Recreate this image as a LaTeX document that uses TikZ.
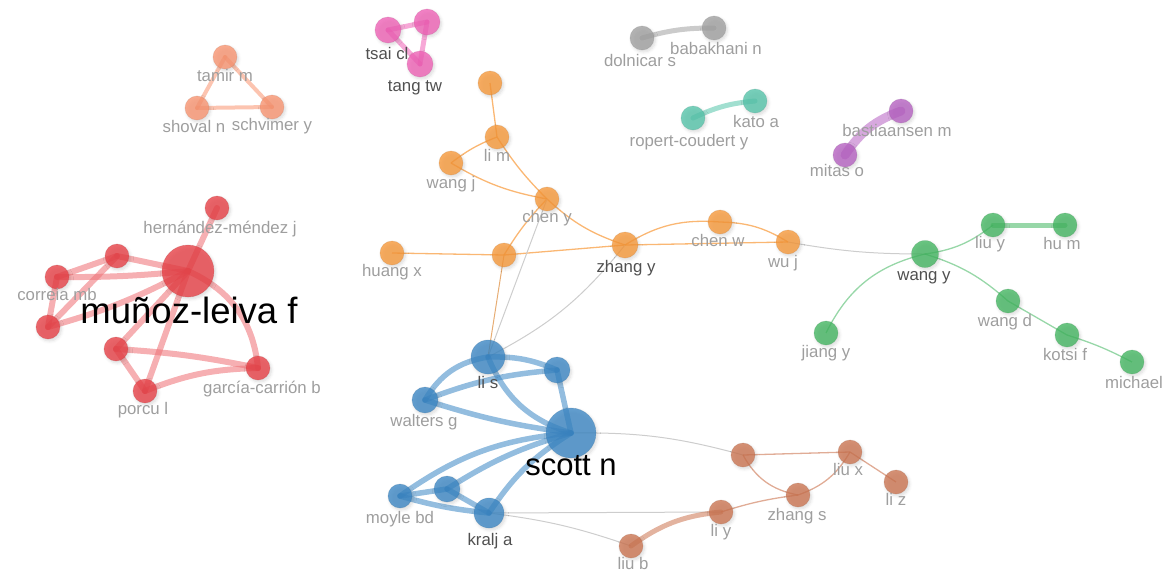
\documentclass[tikz,border=0pt]{standalone}
\usepackage{fontspec}
\setmainfont{Liberation Sans}
\usetikzlibrary{backgrounds,shadows.blur}
\definecolor{cRed}{RGB}{232,62,68}
\definecolor{cOrg}{RGB}{248,152,56}
\definecolor{cBlu}{RGB}{58,134,196}
\definecolor{cGrn}{RGB}{66,182,96}
\definecolor{cBrn}{RGB}{204,116,80}
\definecolor{cPnk}{RGB}{240,96,182}
\definecolor{cSal}{RGB}{250,148,112}
\definecolor{cGry}{RGB}{160,160,160}
\definecolor{cTea}{RGB}{84,196,170}
\definecolor{cPur}{RGB}{182,96,194}
\definecolor{cLbl}{RGB}{158,158,158}
\definecolor{cLbd}{RGB}{80,80,80}
\definecolor{cLink}{RGB}{205,205,205}
\tikzset{
  nd/.style={circle, inner sep=0pt, minimum size=24pt, fill=#1, fill opacity=0.78, draw=#1!75!black, draw opacity=0.25, line width=0.6pt,
    blur shadow={shadow xshift=1.5pt, shadow yshift=-2pt, shadow blur steps=6, shadow blur radius=3pt, shadow opacity=18}},
  lbl/.style={inner sep=0pt, text=cLbl, font=\fontsize{16.8}{17}\selectfont, text height=12pt, text depth=3pt},
  lbd/.style={lbl, text=cLbd},
  big/.style={inner sep=0pt, text=black, font=\fontsize{#1}{#1}\selectfont},
  thick link/.style={line width=#1, draw opacity=0.55, line cap=round},
  thin link/.style={line width=#1, draw opacity=0.7},
  gray link/.style={line width=1pt, draw=cLink},
}
\begin{document}
\begin{tikzpicture}[x=1pt, y=-1pt]
\useasboundingbox (0,0) rectangle (1163,571);
% ---------- red cluster
\node[nd=cRed, minimum size=52pt] (m1) at (188,271) {};
\node[nd=cRed] (r1) at (217,208) {};
\node[nd=cRed] (r2) at (117,256) {};
\node[nd=cRed] (r3) at (57,277) {};
\node[nd=cRed] (r4) at (48,327) {};
\node[nd=cRed] (r5) at (116,349) {};
\node[nd=cRed] (r6) at (145,391) {};
\node[nd=cRed] (r7) at (258,368) {};
% ---------- salmon
\node[nd=cSal] (t1) at (225,57) {};
\node[nd=cSal] (t2) at (197,108) {};
\node[nd=cSal] (t3) at (272,107) {};
% ---------- pink
\node[nd=cPnk, minimum size=26pt] (p1) at (388,30) {};
\node[nd=cPnk, minimum size=26pt] (p2) at (427,22) {};
\node[nd=cPnk, minimum size=26pt] (p3) at (420,64) {};
% ---------- gray
\node[nd=cGry] (g1) at (642,38) {};
\node[nd=cGry] (g2) at (714,28) {};
% ---------- teal
\node[nd=cTea] (c1) at (693,118) {};
\node[nd=cTea] (c2) at (755,101) {};
% ---------- purple
\node[nd=cPur] (v1) at (901,111) {};
\node[nd=cPur] (v2) at (845,155) {};
% ---------- orange
\node[nd=cOrg] (o1) at (490,83) {};
\node[nd=cOrg] (o2) at (497,137) {};
\node[nd=cOrg] (o3) at (451,163) {};
\node[nd=cOrg] (o4) at (547,199) {};
\node[nd=cOrg] (o5) at (392,253) {};
\node[nd=cOrg] (o6) at (504,255) {};
\node[nd=cOrg, minimum size=26pt] (o7) at (625,245) {};
\node[nd=cOrg] (o8) at (720,222) {};
\node[nd=cOrg] (o9) at (788,242) {};
% ---------- green
\node[nd=cGrn, minimum size=27pt] (e1) at (925,254) {};
\node[nd=cGrn] (e2) at (993,225) {};
\node[nd=cGrn] (e3) at (1065,225) {};
\node[nd=cGrn] (e4) at (826,333) {};
\node[nd=cGrn] (e5) at (1008,301) {};
\node[nd=cGrn] (e6) at (1067,335) {};
\node[nd=cGrn] (e7) at (1132,362) {};
% ---------- blue
\node[nd=cBlu, minimum size=34pt] (b1) at (488,357) {};
\node[nd=cBlu, minimum size=26pt] (b2) at (557,370) {};
\node[nd=cBlu, minimum size=26pt] (b3) at (425,400) {};
\node[nd=cBlu, minimum size=50pt] (b4) at (571,433) {};
\node[nd=cBlu] (b5) at (400,496) {};
\node[nd=cBlu, minimum size=26pt] (b6) at (447,489) {};
\node[nd=cBlu, minimum size=30pt] (b7) at (489,513) {};
% ---------- brown
\node[nd=cBrn] (n1) at (743,455) {};
\node[nd=cBrn] (n2) at (850,452) {};
\node[nd=cBrn] (n3) at (896,482) {};
\node[nd=cBrn] (n4) at (798,495) {};
\node[nd=cBrn] (n5) at (721,512) {};
\node[nd=cBrn] (n6) at (631,546) {};

% ---------- labels
\node[lbl] (lr1) at (220,229) {hernández-méndez j};
\node[lbl] (lr3) at (57,296) {correia mb};
\node[lbl] (lr6) at (143,410) {porcu l};
\node[lbl] (lr7) at (262,389) {garcía-carrión b};
\node[lbl] (lt1) at (225,77) {tamir m};
\node[lbl] (lt2) at (194,128) {shoval n};
\node[lbl] (lt3) at (272,126) {schvimer y};
\node[lbd] (lp1) at (387,55) {tsai cl};
\node[lbd] (lp3) at (415,87) {tang tw};
\node[lbl] (lg1) at (640,62) {dolnicar s};
\node[lbl] (lg2) at (716,50) {babakhani n};
\node[lbl] (lc2) at (756,123) {kato a};
\node[lbl] (lc1) at (689,142) {ropert-coudert y};
\node[lbl] (lv1) at (897,132) {bastiaansen m};
\node[lbl] (lv2) at (837,172) {mitas o};
\node[lbl] (lo2) at (497,157) {li m};
\node[lbl] (lo3) at (451,184) {wang j};
\node[lbl] (lo4) at (547,218) {chen y};
\node[lbl] (lo5) at (392,272) {huang x};
\node[lbd] (lo7) at (626,268) {zhang y};
\node[lbl] (lo8) at (718,242) {chen w};
\node[lbl] (lo9) at (783,263) {wu j};
\node[lbd] (le1) at (924,276) {wang y};
\node[lbl] (le2) at (990,244) {liu y};
\node[lbl] (le3) at (1062,245) {hu m};
\node[lbl] (le4) at (826,353) {jiang y};
\node[lbl] (le5) at (1005,322) {wang d};
\node[lbl] (le6) at (1065,356) {kotsi f};
\node[lbl] (le7) at (1134,384) {michael};
\node[lbd] (lb1) at (488,384) {li s};
\node[lbl] (lb3) at (424,422) {walters g};
\node[lbl] (lb5) at (400,519) {moyle bd};
\node[lbd] (lb7) at (490,541) {kralj a};
\node[lbl] (ln2) at (848,471) {liu x};
\node[lbl] (ln3) at (896,501) {li z};
\node[lbl] (ln4) at (797,516) {zhang s};
\node[lbl] (ln5) at (721,532) {li y};
\node[lbl] (ln6) at (633,565) {liu b};
\node[big=36.5] (lm1) at (189,310) {muñoz-leiva f};
\node[big=31] (lb4) at (571,466) {scott n};

\begin{pgfonlayer}{background}
% red
\begin{scope}[draw=cRed!75, thick link=6pt]
\draw (m1.center) -- (r1.center);
\draw (m1.center) -- (r2.center);
\draw (r2.center) -- (r3.center);
\draw (m1.center) to[bend left=3] (r3.center);
\draw (r3.center) -- (r4.center);
\draw (r2.center) -- (r4.center);
\draw (m1.center) to[bend left=6] (r4.center);
\draw (m1.center) -- (r5.center);
\draw (m1.center) -- (r6.center);
\draw (m1.center) to[bend left=30] (r7.center);
\draw (r5.center) -- (r6.center);
\draw (r5.center) to[bend left=4] (r7.center);
\draw (r6.center) to[bend left=10] (r7.center);
\end{scope}
% salmon
\begin{scope}[draw=cSal, thick link=4pt]
\draw (t1.center) -- (t2.center);
\draw (t1.center) -- (t3.center);
\draw (t2.center) -- (t3.center);
\end{scope}
% pink
\begin{scope}[draw=cPnk, thick link=5pt]
\draw (p1.center) -- (p2.center);
\draw (p2.center) -- (p3.center);
\draw (p1.center) -- (p3.center);
\end{scope}
% gray, teal, purple
\draw[draw=cGry, thick link=5pt] (g1.center) to[bend left=8] (g2.center);
\draw[draw=cTea, thick link=5pt] (c1.center) to[bend left=10] (c2.center);
\draw[draw=cPur, thick link=9pt] (v2.center) to[bend left=18] (v1.center);
% orange
\begin{scope}[draw=cOrg, thin link=1.3pt]
\draw (o1.center) -- (o2.center);
\draw (o2.center) to[bend right=8] (o3.center);
\draw (o2.center) to[bend right=6] (o4.center);
\draw (o3.center) to[bend right=10] (o4.center);
\draw (o4.center) to[bend right=12] (o7.center);
\draw (o4.center) to[bend right=6] (o6.center);
\draw (o5.center) -- (o6.center);
\draw (o6.center) -- (o7.center);
\draw (o7.center) to[bend left=18] (o8.center);
\draw (o8.center) to[bend left=15] (o9.center);
\draw (o7.center) -- (o9.center);
\end{scope}
% gray cross links
\begin{scope}[gray link]
\draw (o9.center) to[bend right=5] (e1.center);
\draw (b1.center) -- (o4.center);
\draw (b1.center) to[bend right=12] (o7.center);
\draw (b4.center) to[bend left=8] (n1.center);
\draw (b7.center) -- (n5.center);
\draw (b7.center) to[bend left=6] (n6.center);
\end{scope}
\draw[draw=cOrg!60!cLink, line width=1pt] (b1.center) -- (o6.center);
% green
\begin{scope}[draw=cGrn, thin link=1.3pt, draw opacity=0.55]
\draw (e1.center) to[bend right=15] (e2.center);
\draw (e1.center) to[bend right=25] (e4.center);
\draw (e1.center) to[bend left=12] (e5.center);
\draw (e5.center) -- (e6.center);
\draw (e6.center) to[bend left=5] (e7.center);
\end{scope}
\draw[draw=cGrn, thick link=5pt] (e2.center) -- (e3.center);
% blue
\begin{scope}[draw=cBlu, thick link=5.5pt]
\draw (b1.center) to[bend left=12] (b2.center);
\draw (b3.center) to[bend left=8] (b2.center);
\draw (b3.center) to[bend left=25] (b1.center);
\draw (b1.center) to[bend right=25] (b4.center);
\draw (b2.center) -- (b4.center);
\draw (b3.center) to[bend right=5] (b4.center);
\draw (b5.center) to[bend left=15] (b4.center);
\draw (b6.center) to[bend left=8] (b4.center);
\draw (b7.center) to[bend left=12] (b4.center);
\draw (b5.center) -- (b6.center);
\draw (b5.center) to[bend right=5] (b7.center);
\draw (b6.center) -- (b7.center);
\end{scope}
% brown
\begin{scope}[draw=cBrn, thin link=1.3pt, draw opacity=0.6]
\draw (n1.center) -- (n2.center);
\draw (n1.center) to[bend right=25] (n4.center);
\draw (n4.center) to[bend right=20] (n2.center);
\draw (n2.center) -- (n3.center);
\draw (n5.center) to[bend left=5] (n4.center);
\end{scope}
\draw[draw=cBrn, thick link=5pt] (n6.center) to[bend left=15] (n5.center);
\end{pgfonlayer}
\end{tikzpicture}
\end{document}
